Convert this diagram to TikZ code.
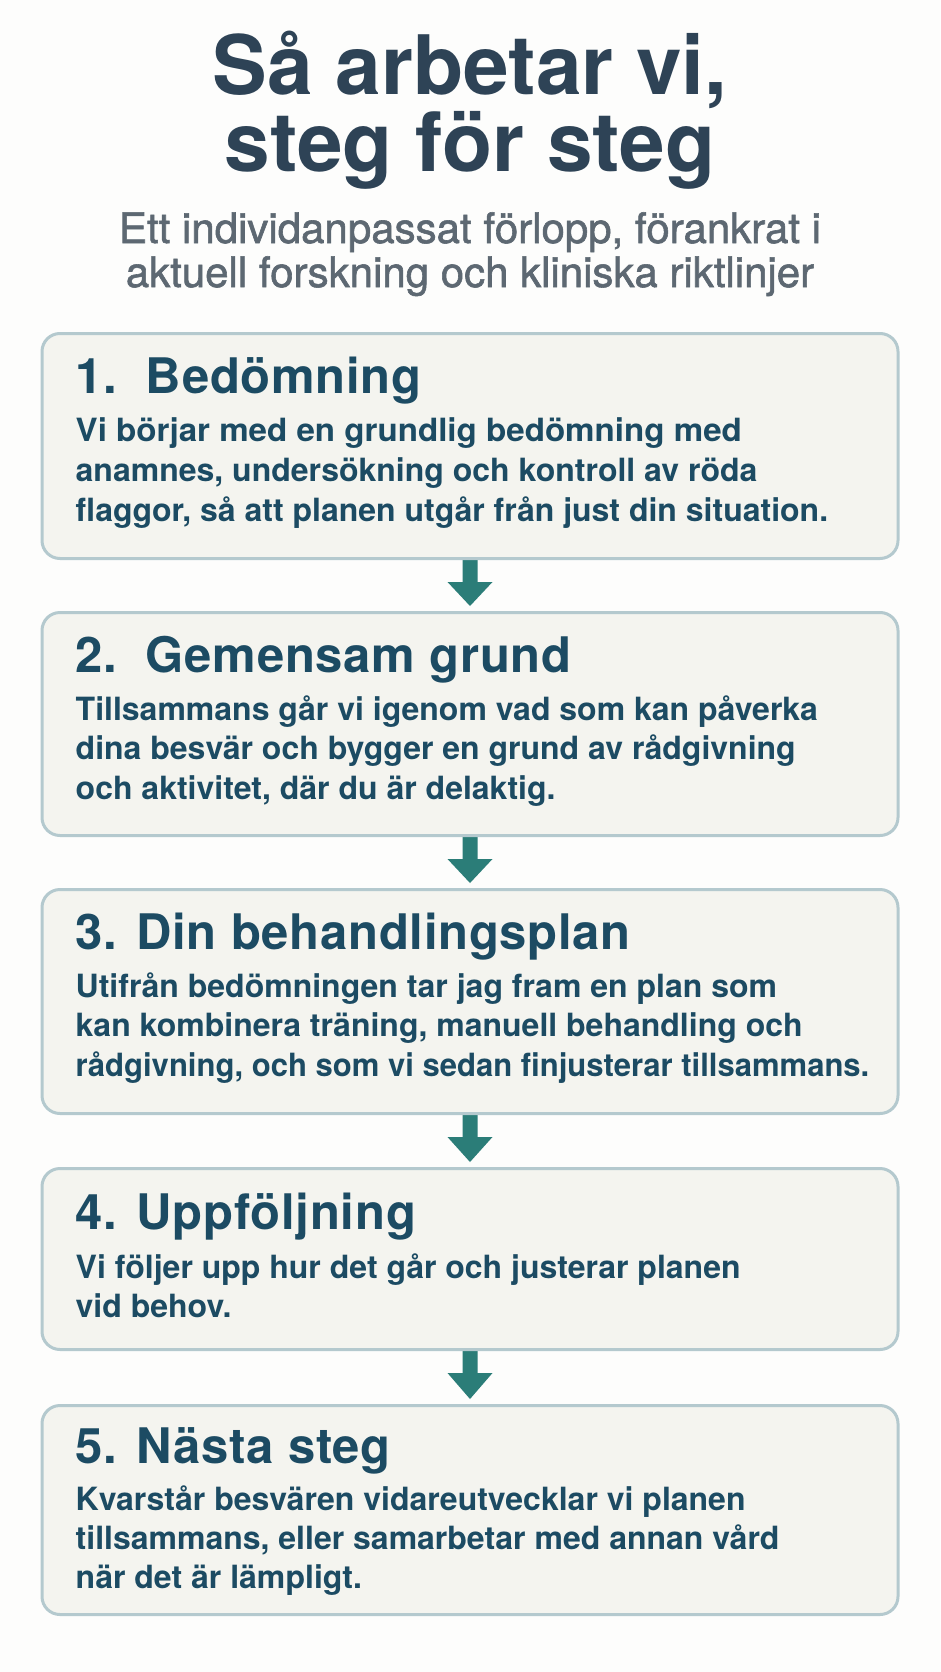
\documentclass[tikz,border=0pt]{standalone}
\usepackage{fontspec}
\usetikzlibrary{calc}
\setmainfont{TeX Gyre Heros}
\newfontfamily\titlefam{TeX Gyre Heros}
\newfontfamily\subfam{TeX Gyre Heros}[FakeBold=1.4]
\newfontfamily\bodyfam{TeX Gyre Heros}
\newfontfamily\headfam{TeX Gyre Heros}[LetterSpace=1.5]
\definecolor{bgc}{HTML}{FDFDFC}
\definecolor{titlec}{HTML}{2E4356}
\definecolor{subc}{HTML}{5D6872}
\definecolor{textc}{HTML}{1C4B63}
\definecolor{boxfill}{HTML}{F4F4EF}
\definecolor{boxline}{HTML}{B4C9CE}
\definecolor{arrowc}{HTML}{2B7D78}
\tikzset{
  stepbox/.style={draw=boxline, line width=3pt, fill=boxfill, rounded corners=18pt,
    minimum width=856pt, inner sep=0pt, anchor=north},
  titletext/.style={anchor=base, inner sep=0pt, text=titlec,
    font=\titlefam\bfseries\fontsize{82}{82}\selectfont},
  subtext/.style={anchor=base, inner sep=0pt, text=subc,
    font=\subfam\fontsize{42}{42}\selectfont},
  headtext/.style={anchor=base west, inner sep=0pt, text=textc,
    font=\headfam\bfseries\fontsize{49}{49}\selectfont},
  bodytext/.style={anchor=base west, inner sep=0pt, text=textc,
    font=\bodyfam\bfseries\fontsize{32}{32}\selectfont},
  arrowfill/.style={fill=arrowc, draw=none}
}
\begin{document}
\begin{tikzpicture}[x=1pt, y=-1pt]
\useasboundingbox (0,0) rectangle (940,1672);
\fill[bgc] (0,0) rectangle (940,1672);
% title
\node[titletext] (t1) at (470,95) {Så arbetar vi,};
\node[titletext] (t2) at (470,172) {steg för steg};
\node[subtext] (s1) at (470,243) {Ett individanpassat förlopp, förankrat i};
\node[subtext] (s2) at (470,287) {aktuell forskning och kliniska riktlinjer};
% box outlines used as arrow anchors
\path (470,332) node[stepbox, draw=none, fill=none, minimum height=225pt] (b1) {};
\path (470,611) node[stepbox, draw=none, fill=none, minimum height=223pt] (b2) {};
\path (470,888) node[stepbox, draw=none, fill=none, minimum height=224pt] (b3) {};
\path (470,1167) node[stepbox, draw=none, fill=none, minimum height=181pt] (b4) {};
\path (470,1404) node[stepbox, draw=none, fill=none, minimum height=209pt] (b5) {};
% arrows
\foreach \a/\b in {b1/b2, b2/b3, b3/b4, b4/b5}{
  \fill[arrowfill] ($(\a.south)+(-7.5,-2)$) -- ($(\a.south)+(7.5,-2)$)
    -- ($(\a.south)+(7.5,22)$) -- ($(\a.south)+(22.5,22)$)
    -- ($(\b.north)+(0,-5)$)
    -- ($(\a.south)+(-22.5,22)$) -- ($(\a.south)+(-7.5,22)$) -- cycle;
}
% visible boxes
\node[stepbox, minimum height=225pt] (vb1) at (470,332) {};
\node[stepbox, minimum height=223pt] (vb2) at (470,611) {};
\node[stepbox, minimum height=224pt] (vb3) at (470,888) {};
\node[stepbox, minimum height=181pt] (vb4) at (470,1167) {};
\node[stepbox, minimum height=209pt] (vb5) at (470,1404) {};
% box 1
\node[headtext] (h1) at ($(vb1.north west)+(35,61)$) {1.\ \ Bedömning};
\node[bodytext] (l11) at ($(vb1.north west)+(35,109)$) {\scalebox{1.035}[1]{Vi börjar med en grundlig bedömning med}};
\node[bodytext] (l12) at ($(vb1.north west)+(35,149)$) {anamnes, undersökning och kontroll av röda};
\node[bodytext] (l13) at ($(vb1.north west)+(35,189)$) {flaggor, så att planen utgår från just din situation.};
% box 2
\node[headtext] (h2) at ($(vb2.north west)+(35,61)$) {2.\ \ Gemensam grund};
\node[bodytext] (l21) at ($(vb2.north west)+(35,109)$) {Tillsammans går vi igenom vad som kan påverka};
\node[bodytext] (l22) at ($(vb2.north west)+(35,148)$) {dina besvär och bygger en grund av rådgivning};
\node[bodytext] (l23) at ($(vb2.north west)+(35,188)$) {och aktivitet, där du är delaktig.};
% box 3
\node[headtext] (h3) at ($(vb3.north west)+(35,61)$) {3. Din behandlingsplan};
\node[bodytext] (l31) at ($(vb3.north west)+(35,109)$) {Utifrån bedömningen tar jag fram en plan som};
\node[bodytext] (l32) at ($(vb3.north west)+(35,148)$) {kan kombinera träning, manuell behandling och};
\node[bodytext] (l33) at ($(vb3.north west)+(35,188)$) {\scalebox{0.97}[1]{rådgivning, och som vi sedan finjusterar tillsammans.}};
% box 4
\node[headtext] (h4) at ($(vb4.north west)+(35,62)$) {4. Uppföljning};
\node[bodytext] (l41) at ($(vb4.north west)+(35,111)$) {Vi följer upp hur det går och justerar planen};
\node[bodytext] (l42) at ($(vb4.north west)+(35,150)$) {vid behov.};
% box 5
\node[headtext] (h5) at ($(vb5.north west)+(35,59)$) {5. Nästa steg};
\node[bodytext] (l51) at ($(vb5.north west)+(35,106)$) {Kvarstår besvären vidareutvecklar vi planen};
\node[bodytext] (l52) at ($(vb5.north west)+(35,145)$) {tillsammans, eller samarbetar med annan vård};
\node[bodytext] (l53) at ($(vb5.north west)+(35,184)$) {när det är lämpligt.};
\end{tikzpicture}
\end{document}
